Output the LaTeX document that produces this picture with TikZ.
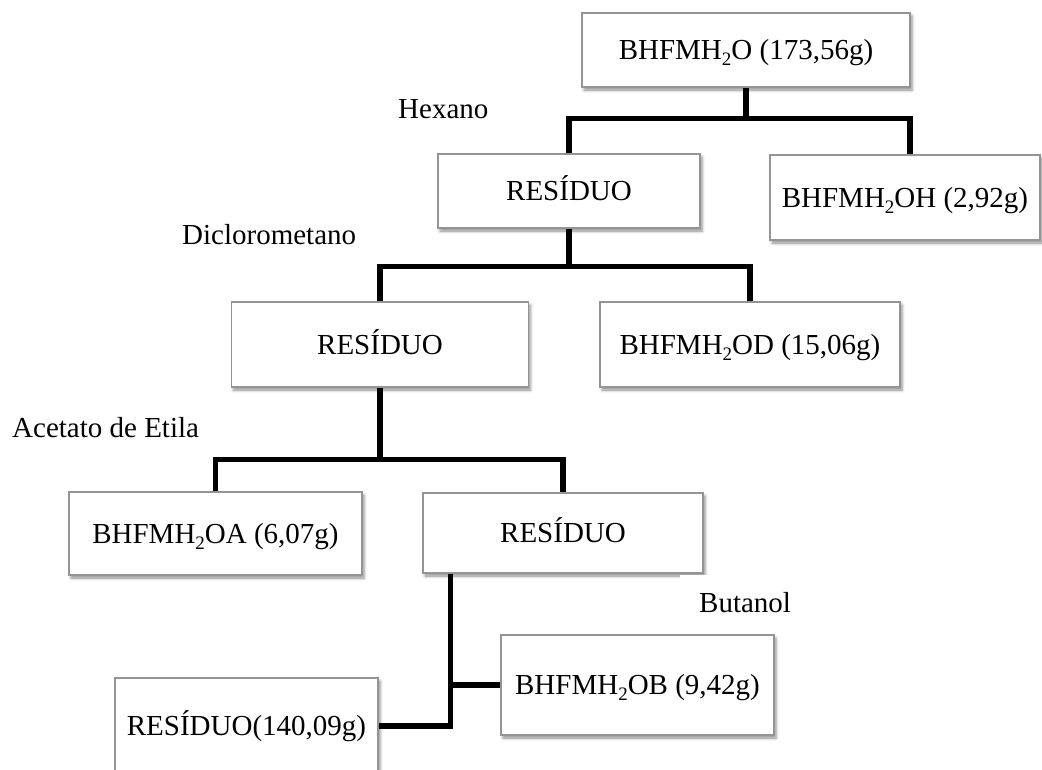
\documentclass[tikz,border=0pt]{standalone}
\usepackage{fontspec}
\setmainfont{Liberation Serif}
\usetikzlibrary{shadows.blur}
% lowered subscript two, as in H2O
\newcommand{\subtwo}{\raisebox{-6pt}{\fontsize{19}{19}\selectfont 2}}
\begin{document}
\begin{tikzpicture}[x=1pt,y=-1pt,
  every node/.style={font=\fontsize{29}{34}\selectfont},
  box/.style={draw=black!42, line width=1.2pt, fill=white, inner sep=0pt,
    text height=19pt, text depth=0pt,
    blur shadow={shadow xshift=2pt, shadow yshift=-3pt,
      shadow blur radius=3pt, shadow opacity=45}},
  link/.style={line width=5.5pt, line join=miter},
  lbl/.style={anchor=base west, inner sep=0pt}]
\useasboundingbox (0,0) rectangle (1042,769);
\clip (0,0) rectangle (1042,769);

% extraction boxes
\node[box, minimum width=328pt, minimum height=74pt] (A) at (746,50) {BHFMH\subtwo O (173,56g)};
\node[box, minimum width=262pt, minimum height=74pt] (B) at (569,191) {RESÍDUO};
\node[box, minimum width=270pt, minimum height=85pt] (C) at (905,197.5) {BHFMH\subtwo OH (2,92g)};
\node[box, minimum width=297pt, minimum height=85pt] (D) at (380,344.5) {RESÍDUO};
\node[box, minimum width=300pt, minimum height=85pt] (E) at (750,344.5) {BHFMH\subtwo OD (15,06g)};
\node[box, minimum width=293pt, minimum height=83pt] (F) at (215.5,533.5) {BHFMH\subtwo OA (6,07g)};
\node[box, minimum width=280pt, minimum height=80pt] (G) at (563,533) {RESÍDUO};
\node[box, minimum width=273pt, minimum height=100pt] (H) at (637.5,685) {BHFMH\subtwo OB (9,42g)};
\node[box, minimum width=263pt, minimum height=96pt] (I) at (246.5,726) {RESÍDUO(140,09g)};

% solvent labels
\node[lbl] (hex) at (398,118) {Hexano};
\node[lbl] (dcm) at (182,244) {Diclorometano};
\node[lbl] (ace) at (12,437) {Acetato de Etila};
\node[fill=white, anchor=north west, inner xsep=19pt, inner ysep=17pt] (but) at (680,575) {Butanol};

% branching connectors
\draw[link] (A.south) -- ++(0,31) coordinate (ja);
\draw[link] (B.north) |- (ja) -| ([xshift=5pt]C.north);
\draw[link] (B.south) -- ++(0,38) coordinate (jb);
\draw[link] (D.north) |- (jb) -| (E.north);
\draw[link] (D.south) -- ++(0,72) coordinate (jd);
\draw[link] (F.north) |- (jd) -| (G.north);
\coordinate (jg) at ([xshift=28pt]G.south west);
\draw[link] (jg) |- (I.east);
\draw[link] (jg |- H.west) -- (H.west);
\end{tikzpicture}
\end{document}
